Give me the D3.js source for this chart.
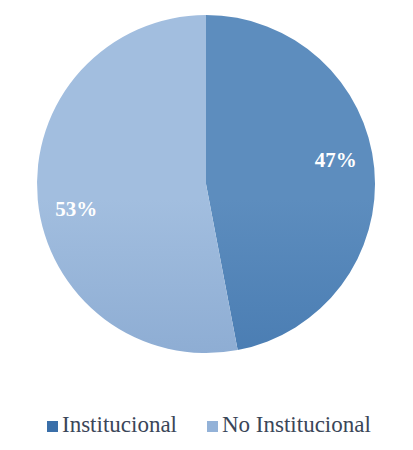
<!DOCTYPE html>
<html>
<head>
<meta charset="utf-8">
<script src="https://cdn.jsdelivr.net/npm/d3@7"></script>
<style>
  body { margin: 0; background: #fff; }
  .serif { font-family: "Liberation Serif", "Tinos", "Times New Roman", Times, "DejaVu Serif", serif; }
</style>
</head>
<body>
<div id="chart"></div>
<script>
// Chart data
const categories = ["Institucional", "No Institucional"];
const values = [47, 53];
// gradient colours per slice (top, bottom)
const topColors = ["#5d8dbe", "#a2bedf"];
const bottomColors = ["#356ba6", "#7699c6"];
const legendColors = ["#3a6fa9", "#93b2d8"];

const width = 413, height = 450;
const cx = 206, cy = 184, radius = 169;

let svg = d3.select("#chart")
    .append("svg")
    .attr("width", width)
    .attr("height", height);

// Vertical gradients across the whole pie
let defs = svg.append("defs");
categories.forEach(function(c, i) {
    let g = defs.append("linearGradient")
        .attr("id", "grad" + i)
        .attr("gradientUnits", "userSpaceOnUse")
        .attr("x1", 0).attr("y1", cy - radius)
        .attr("x2", 0).attr("y2", cy + radius);
    g.append("stop").attr("offset", "0%").attr("stop-color", topColors[i]);
    g.append("stop").attr("offset", "100%").attr("stop-color", bottomColors[i]);
});

let pie = d3.pie().sort(null).value(function(d) { return d; });
let arc = d3.arc().innerRadius(0).outerRadius(radius);

let g = svg.append("g")
    .attr("transform", `translate(${cx}, ${cy})`);

let arcs = pie(values);

g.selectAll("path")
    .data(arcs)
    .enter()
    .append("path")
    .attr("d", arc)
    .style("fill", function(d, i) { return "url(#grad" + i + ")"; });

// Percentage labels (placed slightly ahead of the mid angle, like Excel)
let labelR = 132;
g.selectAll("text.pct")
    .data(arcs)
    .enter()
    .append("text")
    .attr("class", "pct serif")
    .attr("x", function(d) {
        let a = (d.startAngle + d.endAngle) / 2 - 0.09;
        return labelR * Math.sin(a);
    })
    .attr("y", function(d) {
        let a = (d.startAngle + d.endAngle) / 2 - 0.09;
        return -labelR * Math.cos(a);
    })
    .attr("dy", "0.35em")
    .style("text-anchor", "middle")
    .style("font-weight", "bold")
    .style("font-size", "21px")
    .style("fill", "#fff")
    .text(function(d) { return d.data + "%"; });

// Legend
let legendX = [47, 207];
let legend = svg.append("g");
categories.forEach(function(c, i) {
    legend.append("rect")
        .attr("x", legendX[i])
        .attr("y", 421)
        .attr("width", 11)
        .attr("height", 11)
        .style("fill", legendColors[i]);
    legend.append("text")
        .attr("class", "serif")
        .attr("x", legendX[i] + 15)
        .attr("y", 432)
        .style("font-size", "23px")
        .style("fill", "#3a4658")
        .text(c);
});
</script>
</body>
</html>
